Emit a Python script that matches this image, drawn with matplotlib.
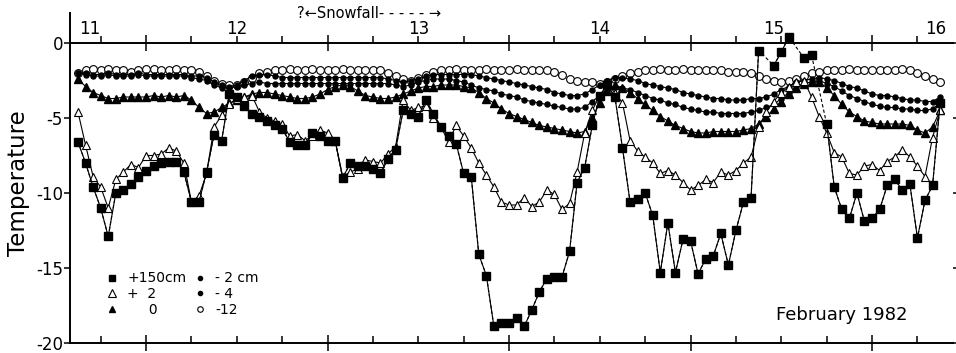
import numpy as np
import matplotlib
matplotlib.use("Agg")
import matplotlib.pyplot as plt
from matplotlib.lines import Line2D

plt.rcParams['font.family'] = ['DejaVu Sans']
plt.rcParams['axes.unicode_minus'] = False

# hourly readings, hour 3 of 11 Feb 1982 up to hour 117 (16 Feb ~ 21h)
hours = np.arange(3, 118)

temp_m12 = [
    -2.0, -1.8, -1.7, -1.8, -1.7, -1.8, -1.8, -1.9, -1.8, -1.7, -1.7, -1.8,
    -1.8, -1.7, -1.8, -1.8, -1.9, -2.2, -2.5, -2.7, -2.8, -2.8, -2.6, -2.3,
    -2.0, -1.9, -1.8, -1.8, -1.7, -1.8, -1.8, -1.7, -1.8, -1.8, -1.8, -1.7,
    -1.8, -1.8, -1.8, -1.8, -1.8, -2.0, -2.2, -2.4, -2.5, -2.3, -2.1, -1.9,
    -1.8, -1.8, -1.7, -1.8, -1.8, -1.8, -1.7, -1.8, -1.8, -1.8, -1.7, -1.8,
    -1.8, -1.8, -1.8, -1.9, -2.1, -2.4, -2.5, -2.6, -2.6, -2.7, -2.6, -2.4,
    -2.2, -2.0, -1.9, -1.8, -1.8, -1.7, -1.8, -1.8, -1.7, -1.8, -1.8, -1.8,
    -1.8, -1.8, -1.9, -1.9, -1.9, -2.0, -2.2, -2.4, -2.5, -2.6, -2.5, -2.4,
    -2.2, -2.0, -1.9, -1.8, -1.8, -1.8, -1.7, -1.8, -1.8, -1.8, -1.8, -1.8,
    -1.8, -1.7, -1.8, -2.0, -2.2, -2.4, -2.6]

temp_m4 = [
    -2.0, -2.1, -2.2, -2.2, -2.1, -2.2, -2.2, -2.2, -2.1, -2.2, -2.2, -2.2,
    -2.2, -2.2, -2.2, -2.3, -2.4, -2.5, -2.8, -3.0, -3.0, -2.9, -2.8, -2.7,
    -2.6, -2.7, -2.7, -2.7, -2.7, -2.7, -2.7, -2.7, -2.7, -2.7, -2.7, -2.7,
    -2.7, -2.7, -2.7, -2.7, -2.7, -2.7, -2.8, -2.9, -2.8, -2.6, -2.5, -2.4,
    -2.4, -2.4, -2.5, -2.6, -2.8, -3.0, -3.1, -3.2, -3.4, -3.5, -3.6, -3.8,
    -3.9, -4.0, -4.1, -4.2, -4.3, -4.4, -4.4, -4.3, -3.9, -3.5, -3.1, -2.9,
    -3.0, -3.1, -3.3, -3.5, -3.7, -3.8, -4.0, -4.1, -4.3, -4.4, -4.5, -4.6,
    -4.6, -4.7, -4.7, -4.7, -4.7, -4.6, -4.5, -4.3, -4.1, -3.7, -3.3, -2.9,
    -2.7, -2.6, -2.5, -2.7, -2.9, -3.2, -3.5, -3.7, -3.9, -4.1, -4.2, -4.3,
    -4.3, -4.4, -4.4, -4.5, -4.5, -4.4, -4.0]

temp_m2 = [
    -2.0, -2.0, -2.1, -2.1, -2.0, -2.1, -2.1, -2.1, -2.0, -2.1, -2.1, -2.1,
    -2.1, -2.1, -2.1, -2.2, -2.2, -2.3, -2.6, -2.8, -2.9, -2.8, -2.5, -2.2,
    -2.1, -2.1, -2.2, -2.3, -2.3, -2.3, -2.3, -2.3, -2.3, -2.3, -2.3, -2.3,
    -2.3, -2.3, -2.3, -2.3, -2.3, -2.4, -2.5, -2.6, -2.5, -2.4, -2.2, -2.1,
    -2.1, -2.1, -2.1, -2.1, -2.1, -2.2, -2.3, -2.4, -2.5, -2.6, -2.7, -2.8,
    -2.9, -3.0, -3.1, -3.3, -3.4, -3.5, -3.5, -3.4, -3.1, -2.8, -2.5, -2.3,
    -2.3, -2.4, -2.5, -2.7, -2.8, -2.9, -3.0, -3.1, -3.3, -3.4, -3.5, -3.6,
    -3.7, -3.7, -3.8, -3.8, -3.8, -3.7, -3.7, -3.6, -3.4, -3.1, -2.9, -2.6,
    -2.5, -2.4, -2.3, -2.4, -2.5, -2.7, -2.9, -3.0, -3.2, -3.4, -3.5, -3.5,
    -3.6, -3.7, -3.8, -3.8, -3.9, -3.9, -3.6]

temp_0 = [
    -2.4, -2.9, -3.3, -3.5, -3.7, -3.7, -3.6, -3.6, -3.6, -3.6, -3.5, -3.6,
    -3.5, -3.6, -3.5, -3.8, -4.3, -4.7, -4.6, -4.3, -4.0, -3.8, -3.6, -3.4,
    -3.3, -3.3, -3.4, -3.5, -3.6, -3.7, -3.7, -3.6, -3.4, -3.1, -2.9, -2.8,
    -2.9, -3.2, -3.5, -3.6, -3.7, -3.7, -3.6, -3.4, -3.2, -3.0, -2.9, -2.9,
    -2.8, -2.8, -2.8, -2.9, -3.0, -3.3, -3.7, -4.0, -4.4, -4.7, -4.9, -5.1,
    -5.3, -5.5, -5.6, -5.7, -5.8, -5.9, -6.0, -5.9, -5.0, -4.0, -3.2, -2.8,
    -3.0, -3.3, -3.7, -4.1, -4.5, -4.9, -5.2, -5.5, -5.7, -5.9, -6.0, -6.0,
    -5.9, -5.9, -5.9, -5.9, -5.8, -5.7, -5.4, -4.9, -4.4, -3.9, -3.4, -3.0,
    -2.7, -2.6, -2.6, -3.0, -3.5, -4.1, -4.6, -4.9, -5.2, -5.3, -5.4, -5.4,
    -5.4, -5.4, -5.5, -5.8, -6.0, -5.6, -4.5]

temp_p2 = [
    -4.6, -6.8, -8.9, -9.6, -11.0, -9.1, -8.6, -8.1, -8.3, -7.5, -7.5, -7.4,
    -7.0, -7.2, -8.0, -10.6, -10.2, -8.7, -5.6, -4.8, -4.1, -3.7, -3.6, -3.5,
    -4.6, -5.0, -5.2, -5.4, -6.2, -6.1, -6.5, -6.2, -5.8, -6.0, -6.5, -8.9,
    -8.6, -8.4, -7.8, -7.9, -8.0, -7.4, -6.9, -3.8, -4.5, -4.3, -4.2, -5.0,
    -5.6, -6.6, -5.5, -6.2, -7.0, -8.0, -8.8, -9.6, -10.6, -10.8, -10.8, -10.3,
    -10.9, -10.6, -9.8, -10.1, -11.1, -10.7, -8.6, -6.0, -4.5, -3.5, -2.8, -3.3,
    -4.0, -6.5, -7.2, -7.6, -8.0, -8.7, -8.5, -8.8, -9.3, -9.8, -9.5, -9.1,
    -9.3, -8.6, -8.8, -8.5, -8.0, -7.6, -5.6, -4.6, -3.9, -3.3, -2.9, -2.6,
    -2.5, -3.6, -4.9, -6.0, -7.3, -7.6, -8.7, -8.8, -8.2, -8.1, -8.5, -7.9,
    -7.6, -7.1, -7.6, -8.2, -8.9, -6.3, -4.5]

nan = np.nan
temp_p150 = [
    -6.6, -8.0, -9.6, -11.0, -12.9, -10.0, -9.8, -9.4, -8.9, -8.5, -8.2, -8.0,
    -7.9, -7.9, -8.6, -10.6, -10.6, -8.6, -6.1, -6.5, -3.4, -3.6, -4.2, -4.7,
    -4.9, -5.2, -5.5, -5.7, -6.6, -6.8, -6.8, -6.0, -6.2, -6.5, -6.5, -9.0,
    -8.0, -8.2, -8.2, -8.4, -8.7, -7.7, -7.1, -4.5, -4.7, -4.9, -3.8, -4.7,
    -5.6, -6.2, -6.7, -8.7, -8.9, -14.1, -15.5, -18.9, -18.7, -18.7, -18.3, -18.9,
    -17.8, -16.6, -15.7, -15.6, -15.6, -13.9, -9.3, -8.3, -5.5, -3.5, -2.8, -3.6,
    -7.0, -10.6, -10.4, -10.0, -11.5, -15.3, -12.0, -15.3, -13.1, -13.2, -15.4, -14.4,
    -14.2, -12.7, -14.8, -12.5, -10.6, -10.3, -0.5, nan, -1.5, -0.6, 0.4, nan,
    -1.0, -0.8, nan, -5.4, -9.6, -11.1, -11.7, -10.0, -11.9, -11.7, -11.1, -9.5,
    -9.1, -9.8, -9.4, -13.0, -10.5, -9.5, -4.0]

for s in (temp_m12, temp_m4, temp_m2, temp_0, temp_p2, temp_p150):
    assert len(s) == len(hours), len(s)

days = 11 + hours / 24.0
day_labels = ['11', '12', '13', '14', '15', '16']

fig = plt.figure(figsize=(9.56, 3.53), dpi=100)
ax = fig.add_axes([70 / 956, 10 / 353, 883 / 956, 330 / 353])

lw = 0.8
ax.plot(days, temp_m12, ls='none', marker='o', ms=5.6, mfc='white', mec='black', mew=0.8, zorder=2)
ax.plot(days, temp_m4, '-', color='black', lw=lw, marker='o', ms=3.6, zorder=3)
ax.plot(days, temp_m2, '-', color='black', lw=lw, marker='o', ms=3.6, zorder=3)
ax.plot(days, temp_0, '-', color='black', lw=lw, marker='^', ms=5.2, zorder=4)
ax.plot(days, temp_p2, '-', color='black', lw=lw, marker='^', ms=6, mfc='white', mec='black', mew=0.8, zorder=5)

# squares: dashed across missing readings, solid elsewhere
p150 = np.array(temp_p150)
ok = ~np.isnan(p150)
ax.plot(days[ok], p150[ok], '--', color='black', lw=lw, dashes=(3, 2), zorder=6)
ax.plot(days, p150, '-', color='black', lw=lw, marker='s', ms=5.2, zorder=6)

ax.set_xlim(11.081, 15.946)
ax.set_ylim(-20, 2)

quarter = [d + f for d in range(11, 16) for f in (0.0, 0.25, 0.75)]
quarter = [q for q in quarter if 11.081 < q < 15.946]
noon = [d + 0.5 for d in range(11, 16)]

ax.set_xticks(quarter)
ax.set_xticks(noon, minor=True)
ax.tick_params(axis='x', which='major', direction='in', length=5, width=1.1, labelbottom=False)
ax.tick_params(axis='x', which='minor', direction='inout', length=12, width=1.1)

ax.set_yticks([0, -5, -10, -15, -20])
ax.tick_params(axis='y', direction='out', length=4, width=1.1, labelsize=12, pad=1)

ax.spines['top'].set_visible(False)
ax.spines['right'].set_visible(False)
for side in ('left', 'bottom'):
    ax.spines[side].set_linewidth(1.4)

# faint inward ticks along the right edge
ax.tick_params(axis='y', which='major', right=True, labelright=False)
for t in ax.yaxis.get_major_ticks():
    t.tick2line.set_markersize(3)

# upper time axis drawn along the 0 degree line
sec = ax.secondary_xaxis(20 / 22)
sec.set_xticks(quarter)
sec.set_xticks(noon, minor=True)
sec.tick_params(which='major', direction='out', length=5, width=1.1, labeltop=False, labelbottom=False)
sec.tick_params(which='minor', direction='inout', length=12, width=1.1)
for sp in sec.spines.values():
    sp.set_linewidth(1.4)

label_pos = [11.19, 12.0, 13.0, 14.0, 14.956, 15.852]
for xp, lab in zip(label_pos, day_labels):
    ax.text(xp, 0.95, lab, ha='center', va='center', fontsize=12)

ax.text(12.332, 1.98, '?\u2190Snowfall- - - - - \u2192', ha='left', va='center', fontsize=10.5)
ax.text(0.874, 0.085, 'February 1982', transform=ax.transAxes, ha='center', va='center', fontsize=13)

ax.set_ylabel('Temperature', fontsize=16.5)
ax.yaxis.set_label_coords(-0.045, 0.485)

handles = [
    Line2D([], [], ls='none', marker='s', color='black', ms=5),
    Line2D([], [], ls='none', marker='^', mfc='white', mec='black', ms=5.5, mew=0.8),
    Line2D([], [], ls='none', marker='^', color='black', ms=5),
    Line2D([], [], ls='none', marker='o', color='black', ms=3),
    Line2D([], [], ls='none', marker='o', color='black', ms=3),
    Line2D([], [], ls='none', marker='o', mfc='white', mec='black', ms=4, mew=0.8),
]
labels = ['+150cm', '+  2', '     0', '- 2 cm', '- 4', '-12']
ax.legend(handles, labels, ncol=2, loc='upper left', bbox_to_anchor=(0.0396, 0.217),
          frameon=False, fontsize=10, handlelength=1.0, handletextpad=0.6,
          columnspacing=0.5, labelspacing=0.13, borderpad=0, borderaxespad=0)

fig.savefig('out.png', dpi=100)
